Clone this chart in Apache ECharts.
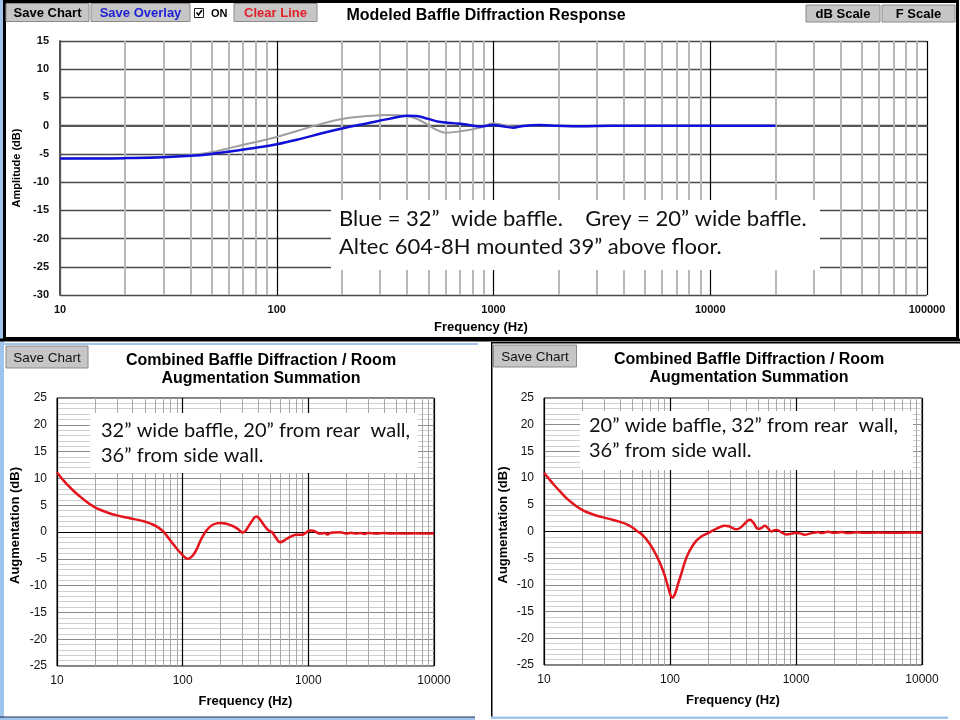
<!DOCTYPE html>
<html><head><meta charset="utf-8">
<script src="https://cdn.jsdelivr.net/npm/echarts@6/dist/echarts.min.js"></script>
<style>html,body{margin:0;padding:0;background:#fff}#c{width:960px;height:720px}</style>
</head><body><div id="c"></div>
<script>
// ---- Top chart: Modeled Baffle Diffraction Response ----
const blueFreq = [10,15,20,30,40,50,63,80,100,130,160,200,260,330,400,440,500,560,650,750,870,1000,1100,1230,1370,1640,1960,2500,3500,5000,10000,20000];
const blueDb   = [-5.8,-5.8,-5.75,-5.6,-5.35,-5.0,-4.5,-3.9,-3.3,-2.3,-1.4,-0.5,0.4,1.2,1.75,1.7,1.2,0.7,0.45,0.2,-0.15,0.1,-0.1,-0.35,-0.05,0.1,0,-0.1,0,0,0,0];
const greyFreq = [10,20,30,40,50,63,80,100,125,153,200,260,330,400,450,500,550,600,700,870,1000,1160,1230,1370,1640,1960,2500,3500,5000,10000,20000];
const greyDb   = [-5.8,-5.75,-5.5,-5.2,-4.7,-3.8,-2.9,-2.0,-0.9,0.1,1.2,1.7,1.9,1.7,1.1,0.1,-0.8,-1.25,-1.0,-0.35,0.45,-0.05,-0.2,-0.05,0.1,0,-0.1,0,0,0,0];
const topMinorFreq = [20,30,40,50,60,70,80,90,200,300,400,500,600,700,800,900,2000,3000,4000,5000,6000,7000,8000,9000,20000,30000,40000,50000,60000,70000,80000,90000];

// ---- Bottom-left: 32" baffle, 20" from rear wall, 36" from side wall ----
const leftFreq = [10,11,12,13.5,15.3,17.5,19.6,22,25,30,36,42,49,55,62,70,77,85,92,99,104,109,115,122,130,138,147,156,175,199,225,254,280,301,318,334,360,385,410,440,482,513,550,598,650,717,810,887,960,1030,1090,1150,1243,1350,1420,1490,1600,1790,2000,2200,2400,2600,2800,3000,3500,4000,4500,5000,6000,7000,8500,10000];
const leftDb   = [11.1,9.9,8.9,7.7,6.6,5.5,4.75,4.15,3.65,3.1,2.7,2.35,2.0,1.6,1.05,0.1,-1.1,-2.4,-3.4,-4.2,-4.7,-5.0,-4.8,-4.2,-3.1,-1.7,-0.5,0.4,1.4,1.7,1.5,1.05,0.4,-0.1,0.3,1.05,2.2,2.9,2.4,1.4,0.3,0,-1.0,-1.9,-1.5,-0.9,-0.5,-0.5,-0.1,0.3,0.25,0.0,-0.3,-0.2,-0.45,-0.2,-0.1,-0.05,-0.3,-0.15,-0.3,-0.2,-0.35,-0.2,-0.3,-0.2,-0.3,-0.25,-0.3,-0.25,-0.3,-0.3];

// ---- Bottom-right: 20" baffle, 32" from rear wall, 36" from side wall ----
const rightFreq = [10,11,12,13.3,15,17,19.2,22,26,30,35,40,45,50,54,61,69,78,88,96.6,101,104.5,108,112,117,123,130,139,150,162,178,195,220,245,272,300,337,370,400,430,460,501,535,566,600,640,670,700,760,841,920,1000,1080,1175,1260,1370,1500,1600,1800,2000,2300,2600,3000,3500,4500,6000,8000,10000];
const rightDb   = [11.0,9.8,8.75,7.6,6.3,5.2,4.3,3.6,3.0,2.6,2.2,1.8,1.4,0.8,0.2,-0.75,-2.3,-4.5,-7.3,-10.4,-11.9,-12.4,-12.0,-11,-9.5,-7.9,-6.0,-4.2,-2.8,-1.7,-0.9,-0.45,0.2,0.75,1.1,0.9,0.4,0.9,1.7,2.2,1.6,0.5,0.7,1.1,0.6,0,0.25,0.3,-0.1,-0.55,-0.4,-0.25,-0.35,-0.6,-0.45,-0.25,-0.1,-0.3,-0.05,-0.25,-0.1,-0.3,-0.15,-0.25,-0.2,-0.25,-0.2,-0.25];
const bottomMinorFreq = [20,30,40,50,60,70,80,90,200,300,400,500,600,700,800,900,2000,3000,4000,5000,6000,7000,8000,9000];

const pairs = (f, v) => f.map((x, i) => [x, v[i]]);
const AR = '"Liberation Sans", Arial, sans-serif';
const CAL = 'Lato, "Open Sans", sans-serif';

const chart = echarts.init(document.getElementById('c'), null, {renderer: 'canvas'});

function xAxisFor(grid, max, opts) {
  return Object.assign({
    gridIndex: grid, type: 'log', logBase: 10, min: 10, max: max,
    axisTick: {show: false},
    splitLine: {show: true, lineStyle: {color: '#000', width: 1.2}},
    nameLocation: 'middle'
  }, opts);
}
function minorLines(xi, yi, freqs, color, width) {
  return {
    type: 'line', xAxisIndex: xi, yAxisIndex: yi, data: [], silent: true, z: 1,
    markLine: {
      silent: true, z: 1, symbol: ['none', 'none'], animation: false,
      label: {show: false}, emphasis: {disabled: true},
      lineStyle: {color: color, width: width, type: 'solid'},
      data: freqs.map(f => ({xAxis: f}))
    }
  };
}
function zeroLine(xi, yi) {
  return {
    type: 'line', xAxisIndex: xi, yAxisIndex: yi, data: [], silent: true, z: 2,
    markLine: {
      silent: true, z: 2, symbol: ['none', 'none'], animation: false,
      label: {show: false}, emphasis: {disabled: true},
      lineStyle: {color: '#000', width: 1, type: 'solid'},
      data: [{yAxis: 0}]
    }
  };
}
const fmt = v => String(Math.round(v));

const bottomY = (grid, nameGap) => ({
  gridIndex: grid, type: 'value', min: -25, max: 25, interval: 5,
  axisLine: {show: false}, axisTick: {show: false},
  axisLabel: {color: '#111', fontSize: 12, fontFamily: AR, margin: 10},
  splitLine: {show: true, lineStyle: {color: '#8c8c8c', width: 1}},
  minorTick: {show: false, splitNumber: 5},
  minorSplitLine: {show: true, lineStyle: {color: '#cfcfcf', width: 1}},
  name: 'Augmentation (dB)', nameLocation: 'middle', nameGap: nameGap,
  nameTextStyle: {color: '#000', fontSize: 13, fontWeight: 'bold', fontFamily: AR, padding: [0, 0, 0, 13]}
});
const bottomX = (grid) => xAxisFor(grid, 10000, {
  axisLine: {show: false},
  axisLabel: {color: '#111', fontSize: 12, fontFamily: AR, margin: 9, formatter: fmt},
  name: 'Frequency (Hz)', nameGap: 29,
  nameTextStyle: {color: '#000', fontSize: 13, fontWeight: 'bold', fontFamily: AR}
});

function button(x, y, w, h, label, color, bold, size) {
  return [
    {type: 'rect', z: 100, shape: {x: x, y: y, width: w, height: h},
     style: {fill: '#c6c6c6', stroke: '#8a8a8a', lineWidth: 1}},
    {type: 'text', z: 101, style: {text: label, x: x + w / 2, y: y + h / 2 + 1,
      align: 'center', verticalAlign: 'middle', textAlign: 'center', textVerticalAlign: 'middle',
      font: (bold ? 'bold ' : '') + size + 'px ' + AR, fill: color}}
  ];
}
function txt(text, x, y, size) {
  return {type: 'text', z: 101, style: {text: text, x: x, y: y,
    align: 'left', verticalAlign: 'middle', textAlign: 'left', textVerticalAlign: 'middle',
    font: size + 'px ' + CAL, fill: '#111'}};
}

const graphics = [].concat(
  // frame decorations
  [{type: 'rect', z: 90, shape: {x: 0, y: 0, width: 4, height: 720}, style: {fill: '#9fc5ec'}},
   {type: 'rect', z: 91, shape: {x: 4.5, y: 1.5, width: 953, height: 337}, style: {fill: 'none', stroke: '#000', lineWidth: 3}},
   {type: 'rect', z: 91, shape: {x: 0, y: 338.5, width: 960, height: 3}, style: {fill: '#000'}},
   {type: 'rect', z: 91, shape: {x: 0, y: 343, width: 478, height: 2}, style: {fill: '#9fc5ec'}},
   {type: 'rect', z: 91, shape: {x: 491, y: 342, width: 469, height: 1.5}, style: {fill: '#000'}},
   {type: 'rect', z: 91, shape: {x: 491, y: 342, width: 1.5, height: 376}, style: {fill: '#000'}},
   {type: 'rect', z: 91, shape: {x: 0, y: 716.5, width: 475, height: 1.2}, style: {fill: '#1c2c5c'}},
   {type: 'rect', z: 91, shape: {x: 0, y: 717.7, width: 475, height: 2.3}, style: {fill: '#9fc5ec'}},
   {type: 'rect', z: 91, shape: {x: 491, y: 716.5, width: 457, height: 2.5}, style: {fill: '#9fc5ec'}}],
  // top buttons
  button(6, 3.5, 83, 18, 'Save Chart', '#000', true, 13),
  button(91, 3.5, 99, 18, 'Save Overlay', '#1f1fd6', true, 13),
  [{type: 'rect', z: 100, shape: {x: 194.5, y: 8.5, width: 9, height: 9}, style: {fill: '#fff', stroke: '#222', lineWidth: 1}},
   {type: 'polyline', z: 101, shape: {points: [[196.5, 12.5], [198.5, 15], [202, 10]]}, style: {stroke: '#000', lineWidth: 1.6, fill: 'none'}},
   {type: 'text', z: 101, style: {text: 'ON', x: 211, y: 13.5, align: 'left', verticalAlign: 'middle', textAlign: 'left', textVerticalAlign: 'middle', font: 'bold 11px ' + AR, fill: '#000'}}],
  button(234, 3.5, 83, 18, 'Clear Line', '#e3202a', true, 13),
  button(806, 5, 74, 17, 'dB Scale', '#000', true, 13),
  button(882, 5, 73, 17, 'F Scale', '#000', true, 13),
  // bottom buttons
  button(6, 346, 82, 22, 'Save Chart', '#111', false, 13.5),
  button(493.5, 345, 83, 22, 'Save Chart', '#111', false, 13.5),
  // annotation boxes
  [{type: 'rect', z: 99, shape: {x: 331, y: 200, width: 489, height: 70}, style: {fill: '#fff'}},
   txt('Blue = 32\u201D  wide baffle.    Grey = 20\u201D wide baffle.', 339, 219, 22),
   txt('Altec 604-8H mounted 39\u201D above floor.', 339, 246.5, 22),
   {type: 'rect', z: 99, shape: {x: 90, y: 413, width: 328, height: 60}, style: {fill: '#fff'}},
   txt('32\u201D wide baffle, 20\u201D from rear  wall,', 101, 431, 20),
   txt('36\u201D from side wall.', 101, 456, 20),
   {type: 'rect', z: 99, shape: {x: 580, y: 411, width: 333, height: 59}, style: {fill: '#fff'}},
   txt('20\u201D wide baffle, 32\u201D from rear  wall,', 589, 425.5, 20),
   txt('36\u201D from side wall.', 589, 451, 20)]
);

const option = {
  animation: false,
  backgroundColor: '#fff',
  title: [
    {text: 'Modeled Baffle Diffraction Response', left: 486, top: 8, padding: 0, textAlign: 'center',
     textStyle: {fontSize: 16, fontWeight: 'bold', fontFamily: AR, color: '#000'}},
    {text: 'Combined Baffle Diffraction / Room\nAugmentation Summation', left: 261, top: 352, padding: 0, textAlign: 'center',
     textStyle: {fontSize: 16, lineHeight: 18, fontWeight: 'bold', fontFamily: AR, color: '#000'}},
    {text: 'Combined Baffle Diffraction / Room\nAugmentation Summation', left: 749, top: 351, padding: 0, textAlign: 'center',
     textStyle: {fontSize: 16, lineHeight: 18, fontWeight: 'bold', fontFamily: AR, color: '#000'}}
  ],
  grid: [
    {left: 60, top: 41, width: 867, height: 254},
    {left: 57, top: 398, width: 377, height: 268, show: true, borderColor: '#000', borderWidth: 1, backgroundColor: 'transparent'},
    {left: 544, top: 398, width: 378, height: 267, show: true, borderColor: '#000', borderWidth: 1, backgroundColor: 'transparent'}
  ],
  xAxis: [
    xAxisFor(0, 100000, {
      axisLine: {show: true, lineStyle: {color: '#555', width: 2}},
      axisLabel: {color: '#111', fontSize: 11, fontWeight: 'bold', fontFamily: AR, margin: 9, formatter: fmt},
      name: 'Frequency (Hz)', nameGap: 26,
      nameTextStyle: {color: '#000', fontSize: 13, fontWeight: 'bold', fontFamily: AR, padding: [0, 25, 0, 0]}
    }),
    bottomX(1),
    bottomX(2)
  ],
  yAxis: [
    {gridIndex: 0, type: 'value', min: -30, max: 15, interval: 5,
     axisLine: {show: true, lineStyle: {color: '#555', width: 2}}, axisTick: {show: false},
     axisLabel: {color: '#111', fontSize: 11, fontWeight: 'bold', fontFamily: AR, margin: 11},
     splitLine: {show: true, lineStyle: {color: '#4a4a4a', width: 1.3}},
     name: 'Amplitude (dB)', nameLocation: 'middle', nameGap: 38,
     nameTextStyle: {color: '#000', fontSize: 11, fontWeight: 'bold', fontFamily: AR}},
    bottomY(1, 35),
    bottomY(2, 34)
  ],
  graphic: {elements: graphics},
  series: [
    minorLines(0, 0, topMinorFreq, '#b8b8b8', 2),
    minorLines(1, 1, bottomMinorFreq, '#a8a8a8', 1),
    minorLines(2, 2, bottomMinorFreq, '#a8a8a8', 1),
    zeroLine(1, 1),
    zeroLine(2, 2),
    {name: 'Grey', type: 'line', xAxisIndex: 0, yAxisIndex: 0, data: pairs(greyFreq, greyDb),
     smooth: 0.4, showSymbol: false, z: 3, lineStyle: {color: '#9e9e9e', width: 2}},
    {name: 'Blue', type: 'line', xAxisIndex: 0, yAxisIndex: 0, data: pairs(blueFreq, blueDb),
     smooth: 0.4, showSymbol: false, z: 4, lineStyle: {color: '#1010d8', width: 2.5}},
    {name: 'Left', type: 'line', xAxisIndex: 1, yAxisIndex: 1, data: pairs(leftFreq, leftDb),
     smooth: 0.5, showSymbol: false, z: 4, lineStyle: {color: '#e3141c', width: 2.5}},
    {name: 'Right', type: 'line', xAxisIndex: 2, yAxisIndex: 2, data: pairs(rightFreq, rightDb),
     smooth: 0.5, showSymbol: false, z: 4, lineStyle: {color: '#e3141c', width: 2.5}}
  ]
};
chart.setOption(option);
</script>
</body></html>
